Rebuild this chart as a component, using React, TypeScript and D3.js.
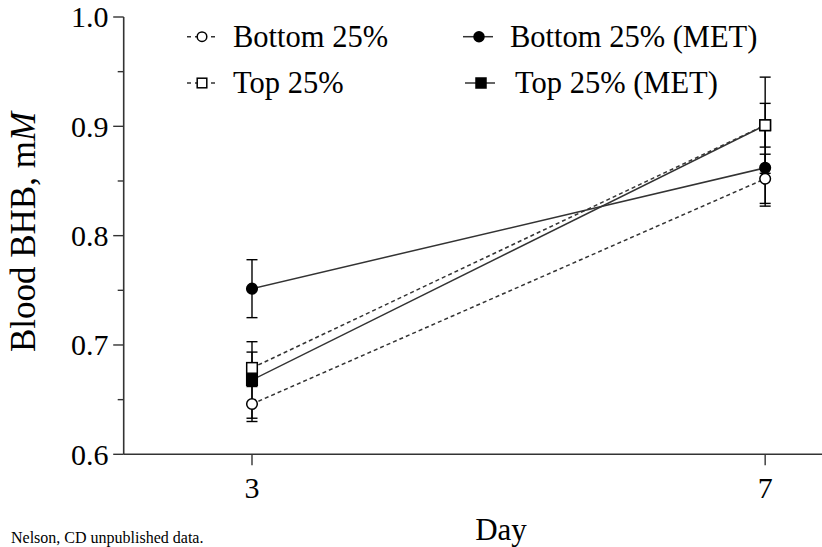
import React from "react";
import * as d3 from "d3";

const days = [3, 7];
const xTicks = [3, 7];
const yTicks = [0.6, 0.7, 0.8, 0.9, 1.0];
const yMinorTicks = [0.65, 0.75, 0.85, 0.95];

const seriesNames = ["Bottom 25%", "Top 25%", "Bottom 25% (MET)", "Top 25% (MET)"];
const bottom25 = [0.646, 0.852];
const bottom25Err = [0.016, 0.0225];
const top25 = [0.679, 0.901];
const top25Err = [0.0145, 0.044];
const bottomMet = [0.7515, 0.862];
const bottomMetErr = [0.0265, 0.035];
const topMet = [0.668, 0.901];
const topMetErr = [0.035, 0.02];

const W = 822;
const H = 547;
const FONT = '"Liberation Serif"';
const INK = "#333";

type Series = {
  name: string;
  values: number[];
  errs: number[];
  shape: "circle" | "square";
  filled: boolean;
  dashed: boolean;
};

const series: Series[] = [
  { name: seriesNames[2], values: bottomMet, errs: bottomMetErr, shape: "circle", filled: true, dashed: false },
  { name: seriesNames[3], values: topMet, errs: topMetErr, shape: "square", filled: true, dashed: false },
  { name: seriesNames[0], values: bottom25, errs: bottom25Err, shape: "circle", filled: false, dashed: true },
  { name: seriesNames[1], values: top25, errs: top25Err, shape: "square", filled: false, dashed: true },
];

const x = d3.scaleLinear().domain([2, 7.443]).range([123.7, 822]);
const y = d3.scaleLinear().domain([0.6, 1.0]).range([454.3, 17]);

const txt = { fontFamily: FONT };

function Marker({ cx, cy, shape, filled, size = 5.3 }: { cx: number; cy: number; shape: string; filled: boolean; size?: number }) {
  const fill = filled ? "#000" : "#fff";
  if (shape === "circle") {
    return <circle cx={cx} cy={cy} r={size} fill={fill} stroke="#000" strokeWidth={1.5} />;
  }
  return (
    <rect x={cx - size} y={cy - size} width={size * 2} height={size * 2} fill={fill} stroke="#000" strokeWidth={1.5} />
  );
}

export default function App() {
  const line = d3
    .line<number>()
    .x((_, i) => x(days[i]))
    .y((d) => y(d));

  const legendItems = [
    { s: series[2], lx: 187, mx: 202, tx: 233, cy: 36.7, by: 47 },
    { s: series[3], lx: 187, mx: 202, tx: 233, cy: 83, by: 93 },
    { s: series[0], lx: 463, mx: 479, tx: 510, cy: 36.7, by: 47 },
    { s: series[1], lx: 465, mx: 481, tx: 515, cy: 83, by: 93 },
  ];

  return (
    <svg
      width={W}
      height={H}
      viewBox={`0 0 ${W} ${H}`}
      style={{ position: "absolute", left: 0, top: 0, background: "#fff" }}
    >
      <rect x={0} y={0} width={W} height={H} fill="#fff" />
      {/* axes */}
      <line x1={x(2)} x2={x(2)} y1={y(1.0)} y2={y(0.6)} stroke={INK} strokeWidth={1.6} />
      <line x1={x(2)} x2={W} y1={y(0.6)} y2={y(0.6)} stroke={INK} strokeWidth={1.6} />
      {yTicks.map((t) => (
        <g key={"yt" + t}>
          <line x1={x(2) - 10.5} x2={x(2)} y1={y(t)} y2={y(t)} stroke={INK} strokeWidth={1.4} />
          <text x={108.5} y={y(t)} dy="0.34em" textAnchor="end" fontSize={30} fill="#000" style={txt}>
            {t.toFixed(1)}
          </text>
        </g>
      ))}
      {yMinorTicks.map((t) => (
        <line key={"ym" + t} x1={x(2) - 6} x2={x(2)} y1={y(t)} y2={y(t)} stroke={INK} strokeWidth={1.4} />
      ))}
      {xTicks.map((t) => (
        <g key={"xt" + t}>
          <line x1={x(t)} x2={x(t)} y1={y(0.6)} y2={y(0.6) + 11} stroke={INK} strokeWidth={1.4} />
          <text x={x(t)} y={498} textAnchor="middle" fontSize={30} fill="#000" style={txt}>
            {t}
          </text>
        </g>
      ))}
      <text x={501} y={540} textAnchor="middle" fontSize={31} fill="#000" style={txt}>
        Day
      </text>
      <text transform="translate(35,232) rotate(-90)" textAnchor="middle" fontSize={35} fill="#000" style={txt}>
        Blood BHB, m<tspan fontStyle="italic">M</tspan>
      </text>
      <text x={11} y={543} fontSize={16} fill="#000" style={txt}>
        Nelson, CD unpublished data.
      </text>

      {/* lines */}
      {series.map((s) => (
        <path
          key={"l" + s.name}
          d={line(s.values) || ""}
          fill="none"
          stroke={INK}
          strokeWidth={1.5}
          strokeDasharray={s.dashed ? "4,3" : undefined}
        />
      ))}
      {/* error bars */}
      {series.map((s) =>
        s.values.map((v, i) => {
          const cx = x(days[i]);
          const y1 = y(v + s.errs[i]);
          const y2 = y(v - s.errs[i]);
          return (
            <g key={"e" + s.name + i} stroke="#000" strokeWidth={1.4}>
              <line x1={cx} x2={cx} y1={y1} y2={y2} />
              <line x1={cx - 5.5} x2={cx + 5.5} y1={y1} y2={y1} />
              <line x1={cx - 5.5} x2={cx + 5.5} y1={y2} y2={y2} />
            </g>
          );
        })
      )}
      {/* markers */}
      {series.map((s) =>
        s.values.map((v, i) => (
          <Marker key={"m" + s.name + i} cx={x(days[i])} cy={y(v)} shape={s.shape} filled={s.filled} />
        ))
      )}

      {/* legend */}
      {legendItems.map((it) => (
        <g key={"lg" + it.s.name}>
          <line
            x1={it.lx}
            x2={it.lx + 30}
            y1={it.cy}
            y2={it.cy}
            stroke={INK}
            strokeWidth={1.5}
            strokeDasharray={it.s.dashed ? "4,4" : undefined}
          />
          <Marker cx={it.mx} cy={it.cy} shape={it.s.shape} filled={it.s.filled} size={it.s.filled ? 5 : 4.8} />
          <text x={it.tx} y={it.by} fontSize={30.5} fill="#000" style={txt}>
            {it.s.name}
          </text>
        </g>
      ))}
    </svg>
  );
}
